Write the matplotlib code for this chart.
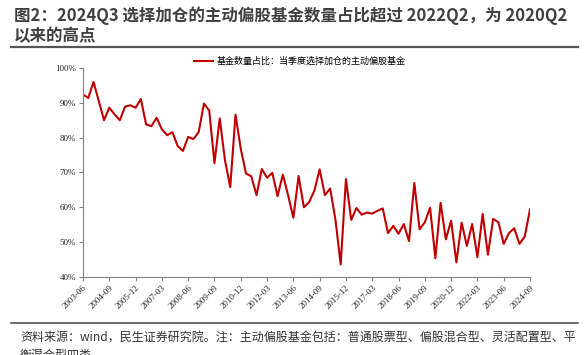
import matplotlib
matplotlib.use("Agg")
import matplotlib.pyplot as plt
import numpy as np

# quarterly share of active equity funds adding positions (%), 2003-06 .. 2024-09
share = [92.4, 91.4, 96.0, 90.5, 85.0, 88.6, 86.7, 85.0, 88.9, 89.3,
         88.6, 91.1, 83.8, 83.3, 85.7, 82.4, 80.7, 81.6, 77.6, 76.2,
         80.2, 79.6, 81.6, 89.8, 87.8, 72.7, 85.5, 73.5, 65.8, 86.6,
         76.8, 69.7, 68.9, 63.5, 71.0, 68.5, 69.9, 63.2, 69.4, 63.5,
         57.0, 69.0, 60.0, 61.5, 64.8, 70.9, 63.5, 65.4, 56.5, 43.6,
         68.1, 56.4, 59.8, 57.9, 58.5, 58.2, 59.0, 59.7, 52.6, 54.7,
         52.4, 55.2, 50.3, 67.0, 53.7, 55.7, 59.9, 45.4, 61.3, 50.8,
         56.2, 44.2, 55.6, 48.9, 55.2, 45.7, 58.1, 46.4, 56.7, 55.7,
         49.5, 52.6, 54.0, 49.5, 51.6, 59.4]
tick_labels = ["2003-06", "2004-09", "2005-12", "2007-03", "2008-06", "2009-09",
               "2010-12", "2012-03", "2013-06", "2014-09", "2015-12", "2017-03",
               "2018-06", "2019-09", "2020-12", "2022-03", "2023-06", "2024-09"]
y_ticks = [40, 50, 60, 70, 80, 90, 100]

series_name = "基金数量占比：当季度选择加仓的主动偏股基金"
title = "图2：2024Q3 选择加仓的主动偏股基金数量占比超过 2022Q2，为 2020Q2\n以来的高点"
note = "资料来源：wind，民生证券研究院。注：主动偏股基金包括：普通股票型、偏股混合型、灵活配置型、平\n衡混合型四类"

cjk = ["Noto Sans CJK SC", "DejaVu Sans"]
serif = ["Liberation Serif", "DejaVu Serif"]

fig = plt.figure(figsize=(5.88, 3.55), dpi=100)
ax = fig.add_axes([83/588, 1-277/355, 447/588, 209/355])

x = np.arange(len(share))
ax.plot(x, share, color="#C00000", lw=1.5, label=series_name)

ax.set_xlim(0, len(share)-1)
ax.set_ylim(40, 100)
ax.set_yticks(y_ticks)
ax.set_yticklabels(["%d%%" % v for v in y_ticks], family=serif, fontsize=6.5)
ax.set_xticks(x[::5])
ax.set_xticklabels(tick_labels, rotation=45, ha="right", rotation_mode="anchor",
                   family=serif, fontsize=6.5)

for s in ["top", "right"]:
    ax.spines[s].set_visible(False)
for s in ["left", "bottom"]:
    ax.spines[s].set_color("#808080")
    ax.spines[s].set_linewidth(0.8)
ax.tick_params(colors="#808080", length=3, width=0.8, labelcolor="#222222", pad=2)

leg = ax.legend(loc="center", bbox_to_anchor=(0.485, 1.03), frameon=False,
                handlelength=2.2, handletextpad=0.4, prop={"family": cjk, "size": 6.5})

fig.text(14/588, 1-6/355, title, family=cjk, fontsize=11.9, fontweight="bold",
         color="#404040", va="top", ha="left", linespacing=1.18)
fig.add_artist(plt.Line2D([11/588, 578/588], [1-47/355, 1-47/355], color="#555555", lw=1.6))
fig.add_artist(plt.Line2D([11/588, 578/588], [1-323/355, 1-323/355], color="#555555", lw=1.2))
fig.text(20/588, 1-331/355, note, family=cjk, fontsize=8.65, color="#333333",
         va="top", ha="left", linespacing=1.45)

fig.savefig("out.png", dpi=100)
